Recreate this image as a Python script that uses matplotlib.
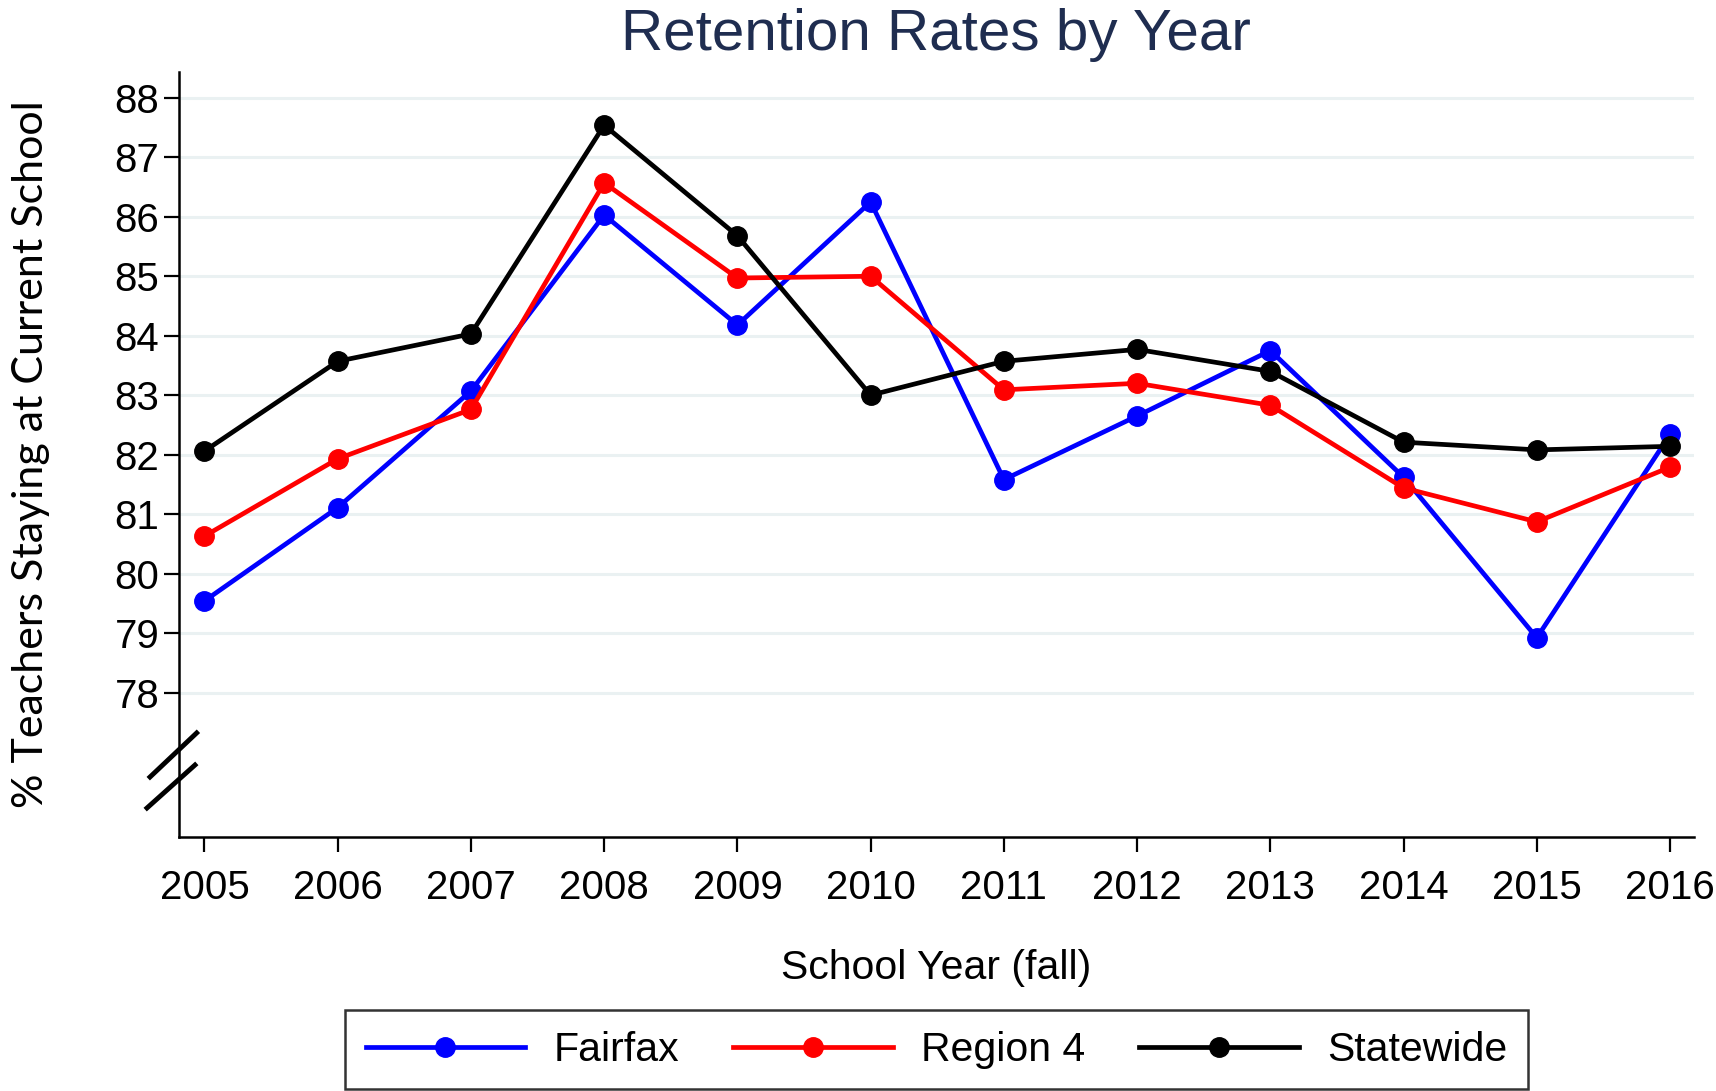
import matplotlib
matplotlib.use('Agg')
import matplotlib.pyplot as plt

# datos
years = [2005, 2006, 2007, 2008, 2009, 2010, 2011, 2012, 2013, 2014, 2015, 2016]
fairfax = [79.54, 81.11, 83.07, 86.03, 84.18, 86.25, 81.58, 82.65, 83.75, 81.62, 78.92, 82.34]
region4 = [80.63, 81.93, 82.76, 86.57, 84.97, 85.00, 83.09, 83.20, 82.83, 81.44, 80.87, 81.79]
statewide = [82.06, 83.57, 84.03, 87.54, 85.68, 83.00, 83.57, 83.77, 83.40, 82.21, 82.08, 82.14]
yticks = [78, 79, 80, 81, 82, 83, 84, 85, 86, 87, 88]

plt.rcParams['font.family'] = ['Liberation Sans', 'DejaVu Sans']

fig = plt.figure(figsize=(17.16, 10.91), dpi=100)
ax = fig.add_axes([0.1041, 0.2328, 0.8831, 0.7015])

series = [(fairfax, '#0000FF', 'Fairfax'),
          (region4, '#FF0000', 'Region 4'),
          (statewide, '#000000', 'Statewide')]
for vals, color, label in series:
    ax.plot(years, vals, color=color, lw=3.4, marker='o', markersize=14,
            label=label, clip_on=False, zorder=3)

ax.set_xlim(2004.806, 2016.18)
ax.set_ylim(75.57, 88.44)
ax.set_xticks(years)
ax.set_yticks(yticks)
ax.tick_params(axis='both', labelsize=29, length=11, width=1.6, color='black')
ax.tick_params(axis='x', pad=12)
ax.tick_params(axis='y', pad=3)

for y in yticks:
    ax.axhline(y, color='#EAF1F2', lw=2.2, zorder=1)

ax.spines['top'].set_visible(False)
ax.spines['right'].set_visible(False)
ax.spines['left'].set_linewidth(1.8)
ax.spines['bottom'].set_linewidth(1.8)

# marcas de corte del eje y
ax.plot([-0.0189, 0.0119], [0.0784, 0.136], transform=ax.transAxes,
        color='black', lw=3.5, clip_on=False, zorder=5)
ax.plot([-0.0209, 0.0108], [0.0379, 0.0941], transform=ax.transAxes,
        color='black', lw=3.5, clip_on=False, zorder=5)

ax.set_title('Retention Rates by Year', fontsize=42, color='#1F2D50', pad=0, y=1.028)
ax.set_xlabel('School Year (fall)', fontsize=29.5, labelpad=30)
ax.set_ylabel('% Teachers Staying at Current School', fontsize=31,
              family=['Lato', 'DejaVu Sans'], labelpad=46)

leg = fig.legend(loc='center', bbox_to_anchor=(0.5458, 0.0376), ncol=3,
                 fontsize=29.5, frameon=True, fancybox=False, edgecolor='black',
                 handlelength=3.9, handletextpad=0.7, columnspacing=1.3,
                 borderpad=0.5)
leg.get_frame().set_linewidth(1.8)

fig.savefig('out.png', dpi=100)
